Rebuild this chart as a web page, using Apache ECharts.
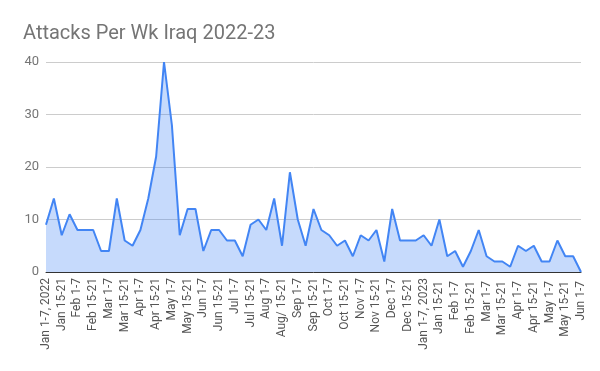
<!DOCTYPE html>
<html>
<head>
<meta charset="utf-8">
<script src="https://cdn.jsdelivr.net/npm/echarts@6/dist/echarts.min.js"></script>
<style>html,body{margin:0;padding:0;background:#fff}#c{width:600px;height:371px}</style>
</head>
<body>
<div id="c"></div>
<script>
const chartTitle = "Attacks Per Wk Iraq 2022-23";
const categories = [
 "Jan 1-7, 2022","Jan 8-14","Jan 15-21","Jan 22-31",
 "Feb 1-7","Feb 8-14","Feb 15-21","Feb 22-28",
 "Mar 1-7","Mar 8-14","Mar 15-21","Mar 22-31",
 "Apr 1-7","Apr 8-14","Apr 15-21","Apr 22-30",
 "May 1-7","May 8-14","May 15-21","May 22-31",
 "Jun 1-7","Jun 8-14","Jun 15-21","Jun 22-30",
 "Jul 1-7","Jul 8-14","Jul 15-21","Jul 22-31",
 "Aug 1-7","Aug 8-14","Aug/ 15-21","Aug 22-31",
 "Sep 1-7","Sep 8-14","Sep 15-21","Sep 22-30",
 "Oct 1-7","Oct 8-14","Oct 15-21","Oct 22-31",
 "Nov 1-7","Nov 8-14","Nov 15-21","Nov 22-30",
 "Dec 1-7","Dec 8-14","Dec 15-21","Dec 22-31",
 "Jan 1-7, 2023","Jan 8-14 ","Jan 15-21 ","Jan 22-31 ",
 "Feb 1-7 ","Feb 8-14 ","Feb 15-21 ","Feb 22-28 ",
 "Mar 1-7 ","Mar 8-14 ","Mar 15-21 ","Mar 22-31 ",
 "Apr 1-7 ","Apr 8-14 ","Apr 15-21 ","Apr 22-30 ",
 "May 1-7 ","May 8-14 ","May 15-21 ","May 22-31 ",
 "Jun 1-7 "
];
const attacks = [
 9,14,7,11, 8,8,8,4, 4,14,6,5, 8,14,22,40,
 28,7,12,12, 4,8,8,6, 6,3,9,10, 8,14,5,19,
 10,5,12,8, 7,5,6,3, 7,6,8,2, 12,6,6,6,
 7,5,10,3, 4,1,4,8, 3,2,2,1, 5,4,5,2,
 2,6,3,3, 0
];
const yTicks = [0,10,20,30,40];

const chart = echarts.init(document.getElementById('c'), null, {renderer:'canvas'});
chart.setOption({
  animation:false,
  title:{text:chartTitle,left:18,top:19,textStyle:{fontFamily:'Roboto',fontSize:20,fontWeight:'normal',color:'#757575'}},
  grid:{left:46,right:19,top:62,bottom:99},
  xAxis:{
    type:'category',data:categories,boundaryGap:false,
    axisLine:{lineStyle:{color:'#333',width:1}},
    axisTick:{show:false},
    axisLabel:{rotate:90,interval:1,margin:6,fontFamily:'Roboto',fontSize:12,color:'#555'},
    splitLine:{show:false}
  },
  yAxis:{
    type:'value',min:yTicks[0],max:yTicks[yTicks.length-1],interval:10,
    axisLine:{show:false},axisTick:{show:false},
    axisLabel:{fontFamily:'Roboto',fontSize:13,color:'#757575',margin:7},
    splitLine:{lineStyle:{color:'#ccc',width:1}}
  },
  series:[{
    type:'line',data:attacks,showSymbol:false,symbol:'none',
    lineStyle:{color:'#4285F4',width:2},
    itemStyle:{color:'#4285F4'},
    areaStyle:{color:'#4285F4',opacity:0.3}
  }]
});
</script>
</body>
</html>
